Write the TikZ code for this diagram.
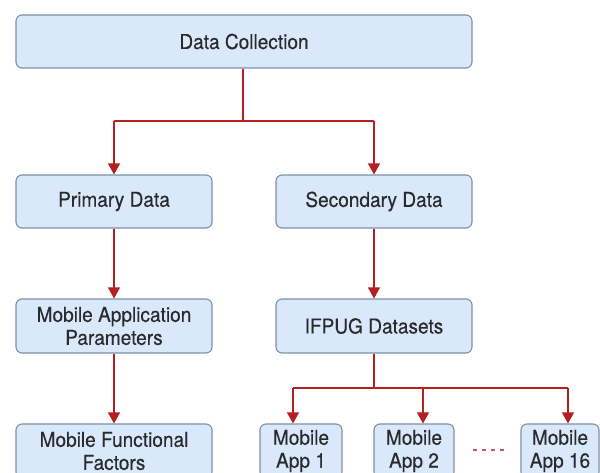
\documentclass[tikz,border=0pt]{standalone}
\usepackage{fontspec}
\setmainfont{TeX Gyre Heros}[FakeStretch=0.93, FakeBold=0.25]
\usetikzlibrary{arrows.meta}
\definecolor{boxfill}{HTML}{DAE8FC}
\definecolor{boxline}{HTML}{7F8FA6}
\definecolor{linkred}{HTML}{B3201F}
\definecolor{txt}{HTML}{2A2A2A}
\tikzset{
  box/.style={draw=boxline, fill=boxfill, line width=1.1pt, rounded corners=6pt,
    align=center, text=txt, inner sep=0pt, font=\fontsize{20.5}{23}\selectfont},
  link/.style={draw=linkred, line width=1.3pt},
  arr/.style={link, -{Triangle[width=12pt,length=11pt]}},
}
\begin{document}
\begin{tikzpicture}[x=1pt,y=-1pt]
\useasboundingbox (0,0) rectangle (600,473);
\clip (0,0) rectangle (600,473);
\fill[white] (0,0) rectangle (600,473);

\node[box, minimum width=456pt, minimum height=53pt] (dc) at (244,41.5) {Data Collection};
\node[box, minimum width=196pt, minimum height=53pt] (pd) at (114,201.5) {Primary Data};
\node[box, minimum width=196pt, minimum height=53pt] (sd) at (374,201.5) {Secondary Data};
\node[box, minimum width=196pt, minimum height=54pt] (map) at (114,326) {Mobile Application\\Parameters};
\node[box, minimum width=196pt, minimum height=54pt] (ifp) at (374,326) {IFPUG Datasets};
\node[box, minimum width=196pt, minimum height=54pt] (mff) at (114,451) {Mobile Functional\\Factors};
\node[box, minimum width=82pt, minimum height=54pt] (a1) at (301,451) {Mobile\\App 1};
\node[box, minimum width=80pt, minimum height=54pt] (a2) at (414,451) {Mobile\\App 2};
\node[box, minimum width=78pt, minimum height=54pt] (a16) at (560,451) {Mobile\\App 16};

% Data Collection split
\coordinate (j1) at (243,121);
\coordinate (l1) at (114,121);
\coordinate (r1) at (374,121);
\draw[link] (dc.south -| j1) -- (j1);
\draw[link] (l1) -- (r1);
\draw[arr] (l1) -- (pd.north);
\draw[arr] (r1) -- (sd.north);

\draw[arr] (pd) -- (map);
\draw[arr] (sd) -- (ifp);
\draw[arr] (map) -- (mff);

% IFPUG split
\coordinate (j2) at (374,388);
\coordinate (b1) at (293,388);
\coordinate (b2) at (423,388);
\coordinate (b3) at (568,388);
\draw[link] (ifp.south) -- (j2);
\draw[link] (b1) -- (b3);
\draw[arr] (b1) -- (b1 |- a1.north);
\draw[arr] (b2) -- (b2 |- a2.north);
\draw[arr] (b3) -- (b3 |- a16.north);

\coordinate (d1) at (473,450);
\coordinate (d2) at (505,450);
\draw[draw=linkred!75, line width=2.2pt, dash pattern=on 4pt off 5pt] (d1) -- (d2);
\end{tikzpicture}
\end{document}
